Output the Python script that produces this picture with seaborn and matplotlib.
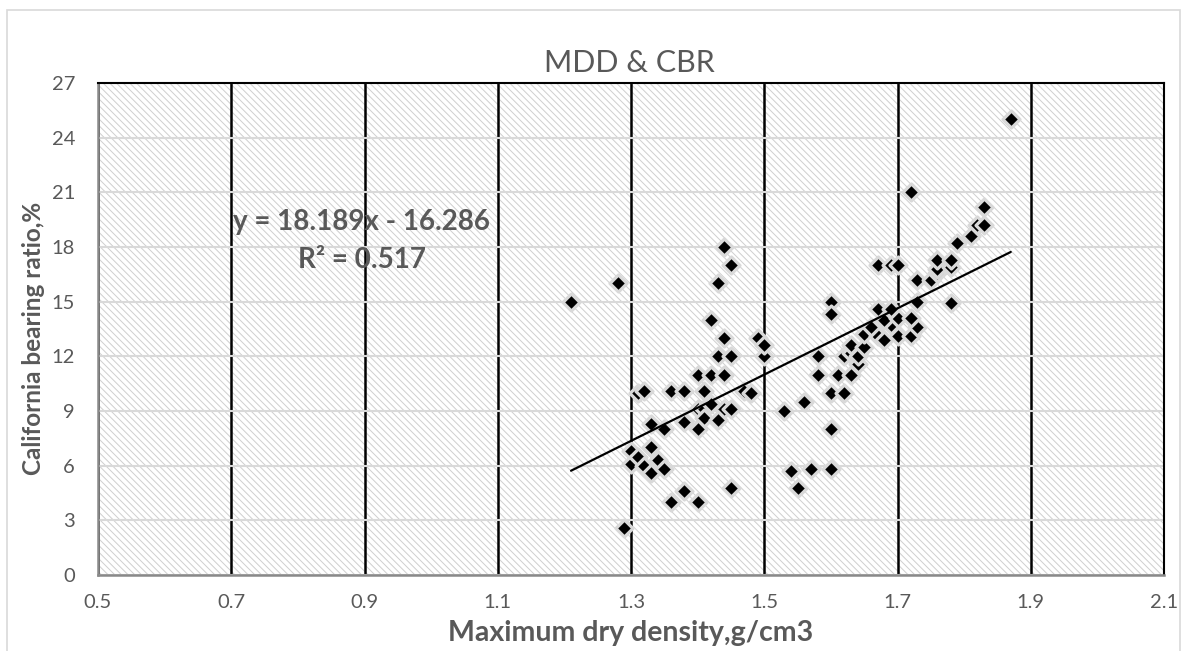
import matplotlib
matplotlib.use("Agg")
import matplotlib.pyplot as plt
from matplotlib.patches import Rectangle
import numpy as np
import pandas as pd
import seaborn as sns

# Maximum dry density (g/cm3) and California bearing ratio (%) of the samples
mdd = [1.21, 1.28, 1.29,
       1.30, 1.30, 1.31, 1.32, 1.33, 1.34, 1.35, 1.33,
       1.31, 1.32, 1.36, 1.38, 1.41, 1.47, 1.48,
       1.40, 1.42, 1.44,
       1.40, 1.41, 1.42, 1.44, 1.45, 1.41, 1.43, 1.38, 1.40, 1.33, 1.35,
       1.36, 1.38, 1.40, 1.45,
       1.42, 1.43, 1.44, 1.45, 1.44, 1.43, 1.45, 1.49, 1.50, 1.50,
       1.53, 1.56, 1.60, 1.62, 1.60, 1.54, 1.57, 1.60, 1.55,
       1.58, 1.58, 1.61, 1.63, 1.64, 1.62, 1.63, 1.64, 1.63, 1.65,
       1.60, 1.60,
       1.65, 1.67, 1.68, 1.70, 1.72, 1.69, 1.73, 1.68, 1.70, 1.72, 1.67, 1.69, 1.66,
       1.73, 1.78, 1.67, 1.69, 1.70,
       1.72, 1.73, 1.75, 1.76, 1.76, 1.76, 1.78, 1.78, 1.79, 1.81, 1.82, 1.83, 1.83, 1.87]
cbr = [15.0, 16.0, 2.6,
       6.8, 6.1, 6.5, 6.0, 5.6, 6.3, 5.8, 7.0,
       10.0, 10.1, 10.1, 10.1, 10.1, 10.1, 10.0,
       11.0, 11.0, 11.0,
       9.1, 9.1, 9.4, 9.1, 9.1, 8.6, 8.5, 8.4, 8.0, 8.3, 8.0,
       4.0, 4.6, 4.0, 4.8,
       14.0, 16.0, 18.0, 17.0, 13.0, 12.0, 12.0, 13.0, 12.0, 12.6,
       9.0, 9.5, 10.0, 10.0, 8.0, 5.7, 5.8, 5.8, 4.8,
       12.0, 11.0, 11.0, 11.0, 11.6, 12.0, 12.2, 12.0, 12.6, 12.5,
       15.0, 14.3,
       13.2, 13.1, 12.9, 13.1, 13.1, 13.7, 13.6, 14.0, 14.1, 14.1, 14.6, 14.6, 13.6,
       15.0, 14.9, 17.0, 17.0, 17.0,
       21.0, 16.2, 16.2, 16.6, 16.8, 17.3, 16.9, 17.3, 18.2, 18.6, 19.2, 19.2, 20.2, 25.0]

# Linear trendline reported on the chart
slope = 18.189
intercept = -16.286
r_squared = 0.517

x_ticks = [0.5, 0.7, 0.9, 1.1, 1.3, 1.5, 1.7, 1.9, 2.1]
x_tick_labels = ["0.5", "0.7", "0.9", "1.1", "1.3", "1.5", "1.7", "1.9", "2.1"]
y_ticks = [0, 3, 6, 9, 12, 15, 18, 21, 24, 27]

df = pd.DataFrame({"mdd": mdd, "cbr": cbr})

sns.set_theme(style="white")
plt.rcParams["font.family"] = ["Lato", "DejaVu Sans"]
plt.rcParams["hatch.linewidth"] = 0.7

W, H = 1186, 651
fig = plt.figure(figsize=(W / 100, H / 100), dpi=100)
fig.patch.set_facecolor("white")

# light chart-area border
fig.patches.append(Rectangle((7 / W, -0.02), (1180 - 7) / W, 1.02 - 10 / H,
                             transform=fig.transFigure, facecolor="none",
                             edgecolor="#d9d9d9", lw=1.2, zorder=0))

left, right, top, bottom = 98, 1164, 83, 575
ax = fig.add_axes([left / W, 1 - bottom / H, (right - left) / W, (bottom - top) / H])
ax.set_facecolor("white")

# patterned plot-area fill
ax.add_patch(Rectangle((0, 0), 1, 1, transform=ax.transAxes, facecolor="white",
                       edgecolor="#cfcfcf", hatch="\\\\\\\\\\", lw=0, zorder=0))

ax.set_xlim(0.5, 2.1)
ax.set_ylim(0, 27)
ax.set_xticks(x_ticks)
ax.set_xticklabels(x_tick_labels)
ax.set_yticks(y_ticks)

ax.set_axisbelow(True)
ax.xaxis.grid(True, color="black", lw=1.8)
ax.yaxis.grid(True, color="#d9d9d9", lw=1.5)

sns.scatterplot(data=df, x="mdd", y="cbr", marker="D", s=75, color="black",
                edgecolor="#d9d9d9", linewidth=2.3, ax=ax, zorder=3, legend=False)

xs = np.array([min(mdd), max(mdd)])
ax.plot(xs, slope * xs + intercept, color="black", lw=1.6, zorder=4)

text_color = "#595959"
ax.text(0.895, 18.93, f"y = {slope}x - {abs(intercept)}", ha="center", va="baseline",
        fontsize=20, fontweight="bold", color=text_color, zorder=5)
ax.text(0.896, 16.85, f"R\u00b2 = {r_squared}", ha="center", va="baseline",
        fontsize=20, fontweight="bold", color=text_color, zorder=5)

ax.tick_params(axis="both", length=0, labelsize=14.5, labelcolor=text_color)
ax.tick_params(axis="x", pad=14)
ax.tick_params(axis="y", pad=16.5)

ax.set_xlabel("Maximum dry density,g/cm3", fontsize=20.5, fontweight="bold",
              color=text_color, va="baseline")
ax.set_ylabel("California bearing ratio,%", fontsize=17.5, fontweight="bold",
              color=text_color, va="center")
ax.xaxis.set_label_coords(0.5, (bottom - 641.5) / (bottom - top))
ax.yaxis.set_label_coords((34 - left) / (right - left), (bottom - 338) / (bottom - top))

for side in ("top", "right"):
    ax.spines[side].set_color("black")
    ax.spines[side].set_linewidth(1.5)
for side in ("left", "bottom"):
    ax.spines[side].set_color("#898989")
    ax.spines[side].set_linewidth(1.8)

fig.text(629 / W, 1 - 72 / H, "MDD & CBR", ha="center", va="baseline",
         fontsize=22, color=text_color)

fig.savefig("out.png", dpi=100)
